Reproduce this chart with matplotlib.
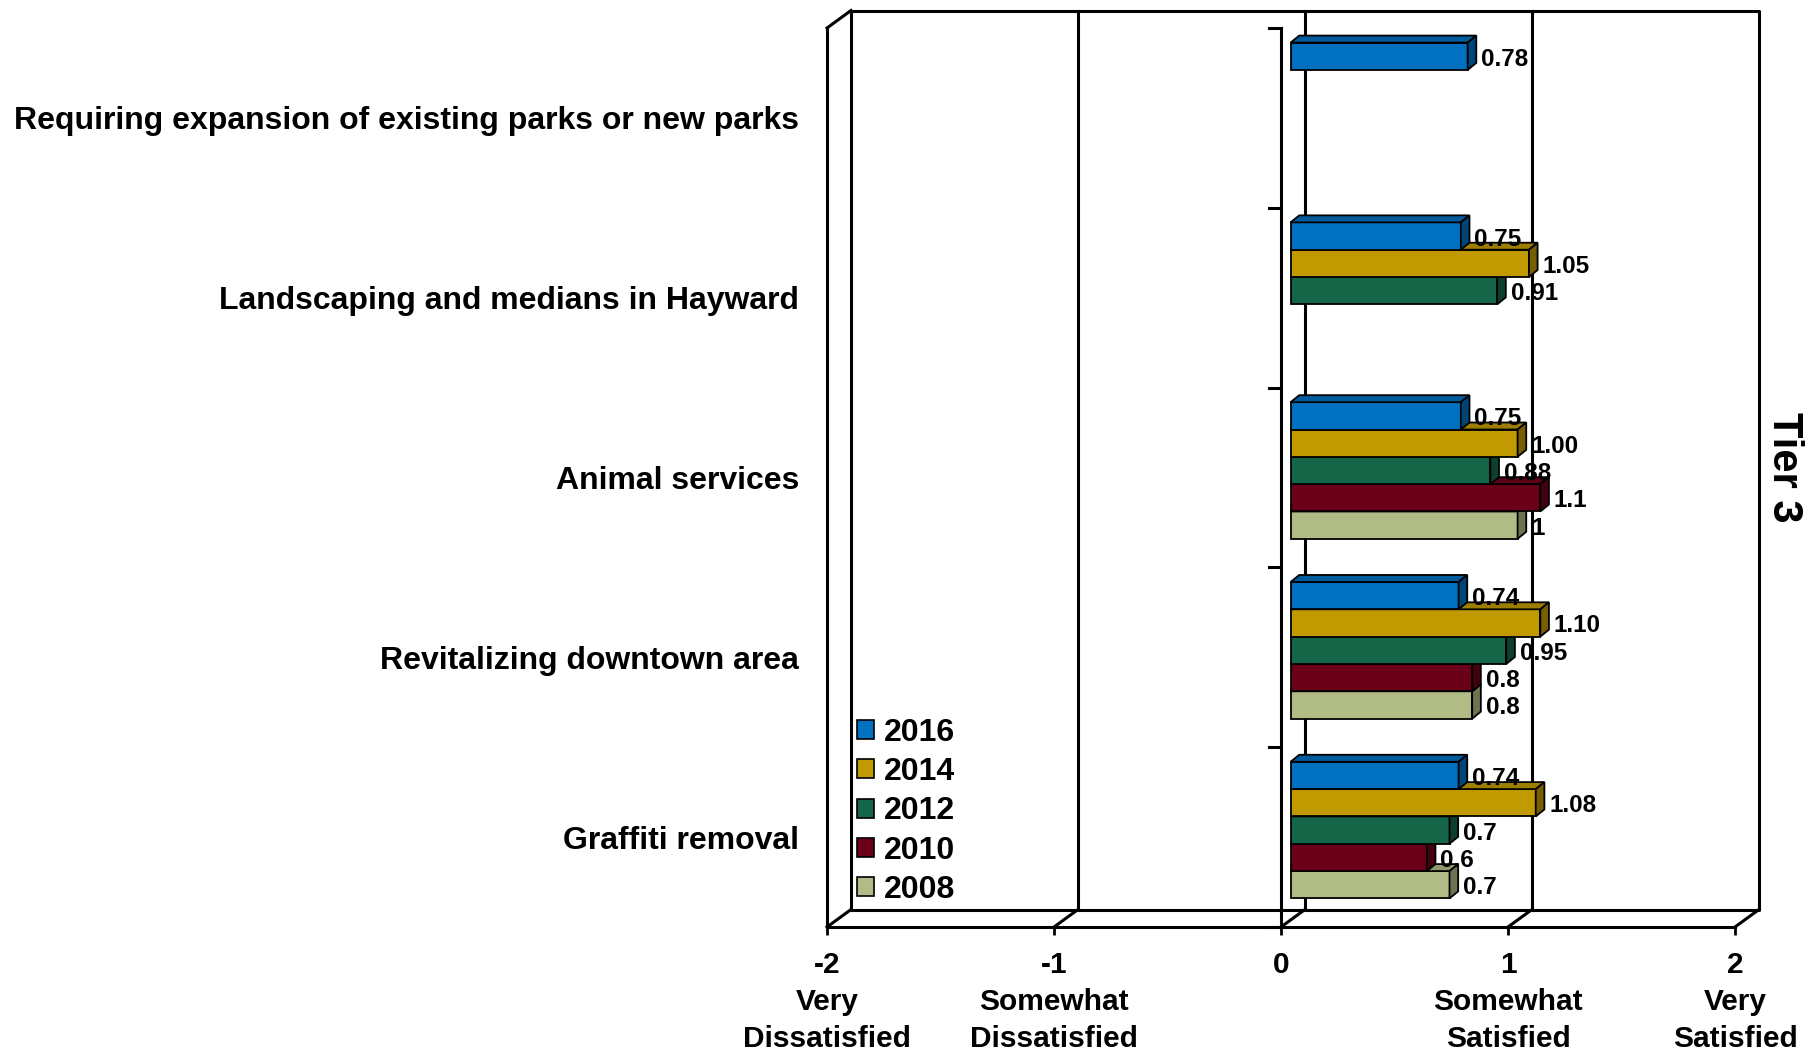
import matplotlib
matplotlib.use("Agg")
import matplotlib.pyplot as plt
from matplotlib.patches import Polygon, Patch
from matplotlib import colors as mcolors

plt.rcParams['font.family'] = ['Liberation Sans', 'DejaVu Sans']
plt.rcParams['font.weight'] = 'bold'

# ---- data -------------------------------------------------------------
categories = [
    "Requiring expansion of existing parks or new parks",
    "Landscaping and medians in Hayward",
    "Animal services",
    "Revitalizing downtown area",
    "Graffiti removal",
]
years = ["2016", "2014", "2012", "2010", "2008"]
v2016 = [0.78, 0.75, 0.75, 0.74, 0.74]
v2014 = [None, 1.05, 1.00, 1.10, 1.08]
v2012 = [None, 0.91, 0.88, 0.95, 0.7]
v2010 = [None, None, 1.1, 0.8, 0.6]
v2008 = [None, None, 1, 0.8, 0.7]
label_formats = ["{:.2f}", "{:.2f}", "{:g}", "{:g}", "{:g}"]
series_colors = ["#0070C0", "#C09A00", "#156649", "#6C0018", "#B0BB86"]
x_ticks = [-2, -1, 0, 1, 2]
x_tick_labels = [
    "-2\nVery\nDissatisfied",
    "-1\nSomewhat\nDissatisfied",
    "0",
    "1\nSomewhat\nSatisfied",
    "2\nVery\nSatisfied",
]
side_label = "Tier 3"

series = [v2016, v2014, v2012, v2010, v2008]

# ---- layout -----------------------------------------------------------
W, H = 1807, 1050
fig = plt.figure(figsize=(W / 100, H / 100), dpi=100)

PX_X = 227.0          # pixels per unit on the value axis
PX_Y = 179.8          # pixels per category band
DX = 24.0 / PX_X      # perspective depth (x) in data units
DY = 17.5 / PX_Y      # perspective depth (y) in data units

xmin, xmax = x_ticks[0], x_ticks[-1]
n = len(categories)
ymin, ymax = -0.5, n - 0.5

left_px, floor_px = 827, 927
ax = fig.add_axes([
    left_px / W,
    (H - floor_px) / H,
    (xmax - xmin + DX) * PX_X / W,
    (ymax - ymin + DY) * PX_Y / H,
])
ax.set_xlim(xmin, xmax + DX)
ax.set_ylim(ymin, ymax + DY)
for sp in ax.spines.values():
    sp.set_visible(False)

LW = 2.2
line_kw = dict(color="black", lw=LW, clip_on=False, zorder=1, solid_capstyle="projecting")

# back wall
ax.plot([xmin + DX, xmax + DX, xmax + DX, xmin + DX, xmin + DX],
        [ymin + DY, ymin + DY, ymax + DY, ymax + DY, ymin + DY], **line_kw)
for xv in x_ticks[1:-1]:
    ax.plot([xv + DX, xv + DX], [ymin + DY, ymax + DY], **line_kw)
# left wall
ax.plot([xmin, xmin], [ymin, ymax], **line_kw)
ax.plot([xmin, xmin + DX], [ymax, ymax + DY], **line_kw)
# floor
ax.plot([xmin, xmax], [ymin, ymin], **line_kw)
for xv in x_ticks:
    ax.plot([xv, xv + DX], [ymin, ymin + DY], **line_kw)

# front category axis at zero
ax.plot([0, 0], [ymin, ymax], color="black", lw=LW, clip_on=False, zorder=2)
tick_len = 12.0 / PX_X
for k in range(n + 1):
    b = ymin + k
    ax.plot([-tick_len, 0], [b, b], color="black", lw=LW, clip_on=False, zorder=2)

# x ticks / labels
ax.set_xticks(x_ticks, x_tick_labels)
ax.tick_params(axis="x", direction="out", length=6, width=2, pad=11,
               labelsize=21.5)
for t in ax.get_xticklabels():
    t.set_linespacing(1.42)
# category labels
ypos = [n - 1 - i for i in range(n)]
ax.set_yticks(ypos, categories)
ax.tick_params(axis="y", length=0, pad=20, labelsize=23)

# ---- 3D-looking bars --------------------------------------------------
group_frac = 0.76
h = group_frac / len(series)
sx, sy = 0.4 * DX, 0.4 * DY        # front face offset into the depth
bdx, bdy = 0.36 * DX, 0.40 * DY    # bar depth


def shade(c, f):
    r, g, b = mcolors.to_rgb(c)
    return (r * f, g * f, b * f)


for j in range(len(series) - 1, -1, -1):
    vals = series[j]
    col = series_colors[j]
    z = 5 + (len(series) - j) * 2
    for i, v in enumerate(vals):
        if v is None:
            continue
        c = ypos[i] + sy
        top = c + group_frac / 2 - j * h
        bot = top - h
        L, R = sx, sx + v
        ax.barh(bot + h / 2, v, height=h, left=L, color=col,
                edgecolor="black", linewidth=1.3, zorder=z)
        ax.add_patch(Polygon([(L, top), (R, top), (R + bdx, top + bdy), (L + bdx, top + bdy)],
                             closed=True, facecolor=shade(col, 0.82),
                             edgecolor="black", linewidth=1.3, zorder=z))
        ax.add_patch(Polygon([(R, bot), (R + bdx, bot + bdy), (R + bdx, top + bdy), (R, top)],
                             closed=True, facecolor=shade(col, 0.62),
                             edgecolor="black", linewidth=1.3, zorder=z))
        ax.text(R + bdx + 5.0 / PX_X, (top + bot) / 2 - 3.0 / PX_Y, label_formats[j].format(v),
                ha="left", va="center", fontsize=17.5, fontweight="bold", zorder=30)

# ---- legend -----------------------------------------------------------
handles = [Patch(facecolor=c, edgecolor="black", linewidth=1.2, label=y)
           for y, c in zip(years, series_colors)]
fig.legend(handles=handles, loc="lower left",
           bbox_to_anchor=(857 / W, (H - 905) / H),
           frameon=False, fontsize=23, handlelength=0.54, handleheight=0.54,
           handletextpad=0.3, labelspacing=0.29, borderpad=0, borderaxespad=0)

fig.text(1784 / W, 1 - 467 / H, side_label, rotation=270, fontsize=30,
         fontweight="bold", ha="center", va="center")

fig.savefig("out.png", dpi=100)
